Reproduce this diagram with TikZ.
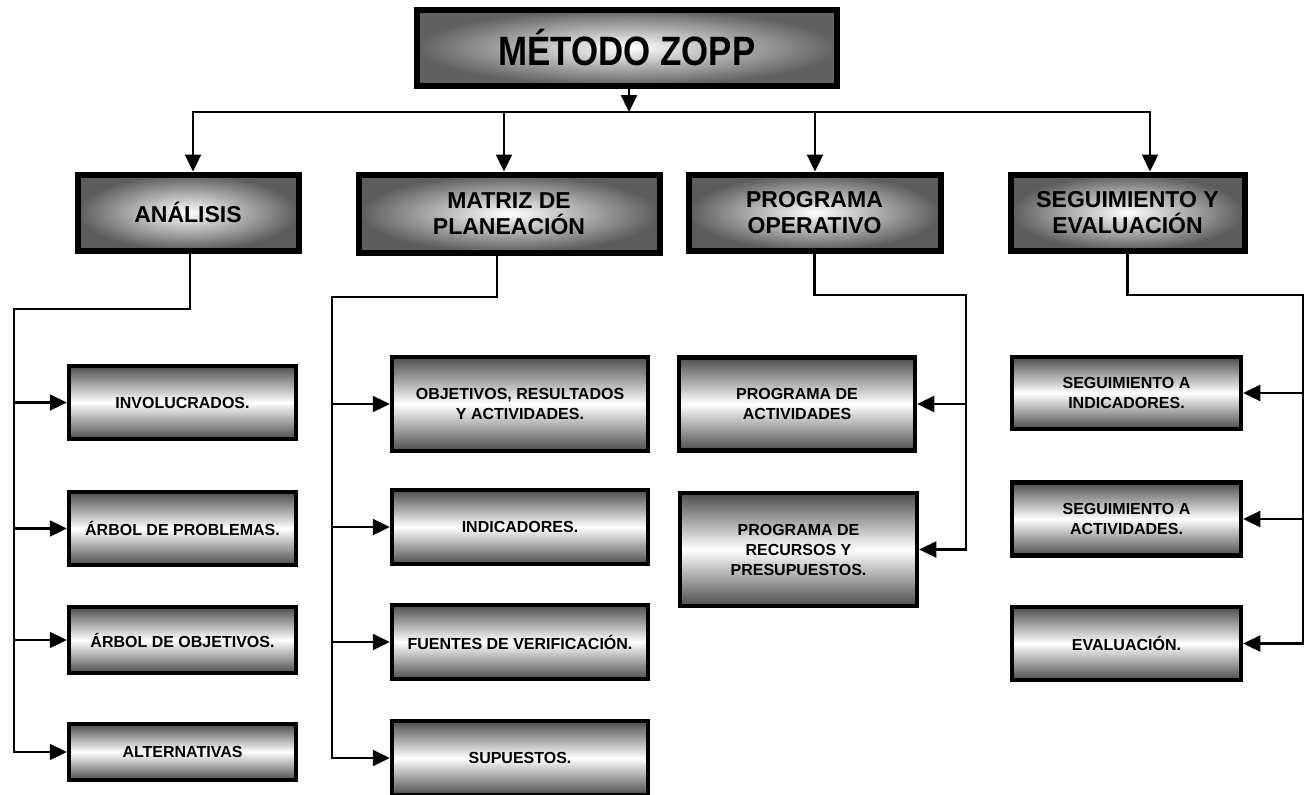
\documentclass[tikz,border=0pt]{standalone}
\usepackage{fontspec}
\setmainfont{Liberation Sans}
\newfontfamily\titlefont[FakeStretch=0.85]{Liberation Sans}
\usetikzlibrary{positioning,arrows.meta,calc}

\begin{document}
\begin{tikzpicture}[x=1pt, y=-1pt,
    titlebox/.style={draw=black, line width=6pt, inner color=white, outer color=black!62, font=\titlefont\bfseries\fontsize{41}{43}\selectfont},
    headbox/.style={draw=black, line width=6pt, inner color=white, outer color=black!64, align=center, font=\bfseries\fontsize{23}{26}\selectfont},
    itembox/.style={draw=black, line width=4.5pt, top color=black!70, bottom color=black!70, middle color=white, align=center, font=\bfseries\fontsize{16}{20}\selectfont},
    link/.style={draw=black, line width=2.4pt, line cap=rect},
    arr/.style={link, -{Triangle[length=17pt,width=16pt]}}
    ]
        \useasboundingbox (0,0) rectangle (1312,795);

        %Nodes
        \node[titlebox, minimum width=420pt, minimum height=76pt]
            (zopp) at (627,47.5)   {MÉTODO ZOPP};

        \node[headbox, minimum width=221pt, minimum height=76pt]
            (ana)  at (188,212.5)  {ANÁLISIS};
        \node[headbox, minimum width=301pt, minimum height=78pt]
            (mat)  at (509,213.5)  {MATRIZ DE\\PLANEACIÓN};
        \node[headbox, minimum width=252pt, minimum height=76pt]
            (prog) at (814.5,212.5) {PROGRAMA\\OPERATIVO};
        \node[headbox, minimum width=234pt, minimum height=76pt]
            (seg)  at (1127.5,212.5) {SEGUIMIENTO Y\\EVALUACIÓN};

        % analisis
        \node[itembox, minimum width=227pt, minimum height=73pt]
            (inv)  at (182.5,402.5) {INVOLUCRADOS.};
        \node[itembox, minimum width=227pt, minimum height=73pt]
            (arbp) at (182.5,528.5) {ÁRBOL DE PROBLEMAS.};
        \node[itembox, minimum width=227pt, minimum height=66pt]
            (arbo) at (182.5,640)   {ÁRBOL DE OBJETIVOS.};
        \node[itembox, minimum width=227pt, minimum height=56pt]
            (alt)  at (182.5,752)   {ALTERNATIVAS};

        % matriz
        \node[itembox, minimum width=256pt, minimum height=94pt]
            (obj)  at (520,404)     {OBJETIVOS, RESULTADOS\\Y ACTIVIDADES.};
        \node[itembox, minimum width=256pt, minimum height=74pt]
            (ind)  at (520,527)     {INDICADORES.};
        \node[itembox, minimum width=256pt, minimum height=74pt]
            (fue)  at (520,642)     {FUENTES DE VERIFICACIÓN.};
        \node[itembox, minimum width=256pt, minimum height=74pt]
            (sup)  at (520,758)     {SUPUESTOS.};

        % programa
        \node[itembox, minimum width=236pt, minimum height=93pt]
            (pact) at (797,404)     {PROGRAMA DE\\ACTIVIDADES};
        \node[itembox, minimum width=237pt, minimum height=113pt]
            (prec) at (798.5,549.5) {PROGRAMA DE\\RECURSOS Y\\PRESUPUESTOS.};

        % seguimiento
        \node[itembox, minimum width=229pt, minimum height=72pt]
            (sind) at (1126.5,393)  {SEGUIMIENTO A\\INDICADORES.};
        \node[itembox, minimum width=229pt, minimum height=73pt]
            (sact) at (1126.5,519)  {SEGUIMIENTO A\\ACTIVIDADES.};
        \node[itembox, minimum width=229pt, minimum height=73pt]
            (eva)  at (1126.5,643.5) {EVALUACIÓN.};

        %Lines
        \coordinate (bus)  at (629,112);
        \coordinate (busA) at (193,112);
        \coordinate (busM) at (504,112);
        \coordinate (busP) at (815,112);
        \coordinate (busS) at (1150,112);

        \draw[arr] (zopp.south -| bus) -- (bus);
        \draw[link] (busA) -- (busS);
        \draw[arr] (busA) -- (busA |- ana.north);
        \draw[arr] (busM) -- (busM |- mat.north);
        \draw[arr] (busP) -- (busP |- prog.north);
        \draw[arr] (busS) -- (busS |- seg.north);

        \coordinate (trA) at (14,309);
        \coordinate (trM) at (332,297);
        \coordinate (trP) at (966,295);
        \coordinate (trS) at (1303,295);

        \draw[link] ($(ana.south)+(2,0)$) |- (trA) -- (trA |- alt.west);
        \draw[link] ($(mat.south)+(-12,0)$) |- (trM) -- (trM |- sup.west);
        \draw[link] (prog.south) |- (trP) -- (trP |- prec.east);
        \draw[link] (seg.south) |- (trS) -- (trS |- eva.east);

        \foreach \n in {inv,arbp,arbo,alt}
            \draw[arr] (trA |- \n.west) -- (\n.west);
        \foreach \n in {obj,ind,fue,sup}
            \draw[arr] (trM |- \n.west) -- (\n.west);
        \foreach \n in {pact,prec}
            \draw[arr] (trP |- \n.east) -- (\n.east);
        \foreach \n in {sind,sact,eva}
            \draw[arr] (trS |- \n.east) -- (\n.east);
    \end{tikzpicture}
\end{document}
